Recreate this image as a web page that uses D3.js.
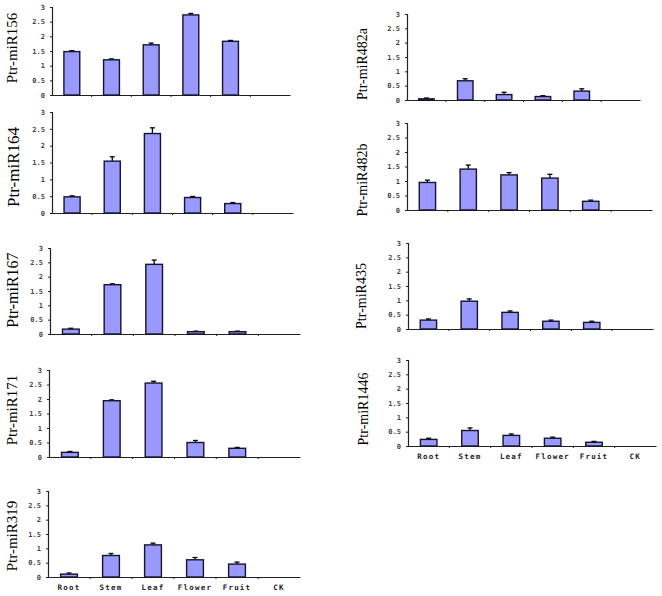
<!DOCTYPE html>
<html><head><meta charset="utf-8">
<script src="https://cdn.jsdelivr.net/npm/d3@7"></script>
<style>body{margin:0;background:#fff}svg{display:block}</style>
</head><body>
<script>
const categories = ["Root","Stem","Leaf","Flower","Fruit","CK"];
const yTicks = [0,0.5,1,1.5,2,2.5,3];
const genes = ["Ptr-miR156","Ptr-miR164","Ptr-miR167","Ptr-miR171","Ptr-miR319","Ptr-miR482a","Ptr-miR482b","Ptr-miR435","Ptr-miR1446"];
const miR156 = [1.48,1.20,1.71,2.73,1.83];
const miR164 = [0.48,1.54,2.36,0.46,0.28];
const miR167 = [0.17,1.72,2.43,0.08,0.08];
const miR171 = [0.16,1.94,2.55,0.50,0.30];
const miR319 = [0.10,0.75,1.12,0.60,0.45];
const miR482a = [0.04,0.67,0.19,0.12,0.31];
const miR482b = [0.95,1.41,1.21,1.10,0.30];
const miR435 = [0.31,0.97,0.58,0.27,0.23];
const miR1446 = [0.23,0.54,0.37,0.27,0.13];
const err156 = [0.03,0.03,0.06,0.05,0.03];
const err164 = [0.03,0.13,0.17,0.03,0.03];
const err167 = [0.03,0.03,0.15,0.02,0.02];
const err171 = [0.03,0.03,0.06,0.07,0.03];
const err319 = [0.04,0.07,0.06,0.08,0.07];
const err482a = [0.03,0.07,0.08,0.03,0.08];
const err482b = [0.08,0.14,0.08,0.13,0.04];
const err435 = [0.04,0.08,0.05,0.04,0.04];
const err1446 = [0.04,0.09,0.05,0.04,0.03];
const seriesValues = [miR156,miR164,miR167,miR171,miR319,miR482a,miR482b,miR435,miR1446];
const seriesErrors = [err156,err164,err167,err171,err319,err482a,err482b,err435,err1446];

// layout: axis left x, axis right x, y of 3, y of 0, label x, label y, label font size, show x labels
const layout = [
  {x0:52,x1:290,yt:7,yb:95,lx:12,ly:48,fs:15,xl:false},
  {x0:52,x1:293,yt:112,yb:213,lx:13,ly:167,fs:17,xl:false},
  {x0:50,x1:300,yt:248,yb:334,lx:12,ly:290,fs:16,xl:false},
  {x0:49,x1:300,yt:370,yb:457,lx:12,ly:410,fs:15,xl:false},
  {x0:48,x1:300,yt:491,yb:577,lx:12,ly:536,fs:15,xl:true},
  {x0:407,x1:640,yt:14,yb:100,lx:362,ly:64,fs:14,xl:false},
  {x0:407,x1:652,yt:123,yb:210,lx:362,ly:180,fs:14,xl:false},
  {x0:408,x1:653,yt:243,yb:329,lx:361,ly:296,fs:14,xl:false},
  {x0:408,x1:656,yt:360,yb:446,lx:363,ly:409,fs:14,xl:true}
];

const svg = d3.select("body").append("svg").attr("width",662).attr("height",596);

genes.forEach((g,i)=>{
  const L = layout[i];
  const vals = seriesValues[i], errs = seriesErrors[i];
  const xb = d3.scaleBand().domain(categories).range([L.x0,L.x1]);
  const y = d3.scaleLinear().domain([0,3]).range([L.yb,L.yt]);
  const gp = svg.append("g");

  const ya = gp.append("g").attr("transform",`translate(${L.x0},0)`)
    .call(d3.axisLeft(y).tickValues(yTicks).tickSize(2).tickPadding(5).tickFormat(d3.format("")));
  ya.select(".domain").attr("stroke","#222").attr("stroke-width",1.2);
  ya.selectAll(".tick line").attr("stroke","#222");
  ya.selectAll("text").attr("font-family","DejaVu Sans Mono").attr("font-size",7).attr("fill","#444").attr("font-weight","bold");

  const xa = gp.append("g").attr("transform",`translate(0,${L.yb})`)
    .call(d3.axisBottom(xb).tickSize(0).tickPadding(6));
  xa.select(".domain").attr("stroke","#222").attr("stroke-width",1.2);
  if(!L.xl) xa.selectAll("text").remove();
  else xa.selectAll("text").attr("font-family","DejaVu Sans Mono").attr("font-size",7.5).attr("font-weight","bold")
    .attr("fill","#222").attr("dy","0.9em").attr("letter-spacing","1.2px");
  gp.selectAll("line.bt").data(categories.slice(1)).enter().append("line")
    .attr("x1",d=>xb(d)).attr("x2",d=>xb(d)).attr("y1",L.yb).attr("y2",L.yb+2)
    .attr("stroke","#222").attr("stroke-width",1);

  const data = vals.map((v,j)=>({c:categories[j],v,e:errs[j]}));
  const bw = xb.bandwidth()*0.4;
  const cx = d=>xb(d.c)+xb.bandwidth()/2;
  gp.selectAll("line.eb").data(data).enter().append("line")
    .attr("x1",cx).attr("x2",cx)
    .attr("y1",d=>y(d.v)).attr("y2",d=>y(d.v+d.e)).attr("stroke","#000").attr("stroke-width",1.3);
  gp.selectAll("line.ec").data(data).enter().append("line")
    .attr("x1",d=>cx(d)-2.5).attr("x2",d=>cx(d)+2.5)
    .attr("y1",d=>y(d.v+d.e)).attr("y2",d=>y(d.v+d.e)).attr("stroke","#000").attr("stroke-width",1.3);
  gp.selectAll("rect").data(data).enter().append("rect")
    .attr("x",d=>cx(d)-bw/2).attr("width",bw)
    .attr("y",d=>y(d.v)).attr("height",d=>y(0)-y(d.v))
    .attr("fill","#9999ff").attr("stroke","#14142a").attr("stroke-width",1.4);

  gp.append("text").attr("transform",`translate(${L.lx},${L.ly}) rotate(-90)`)
    .attr("text-anchor","middle").attr("dominant-baseline","central")
    .attr("font-family","Liberation Serif").attr("font-size",L.fs).attr("fill","#000").text(g);
});
</script>
</body></html>
